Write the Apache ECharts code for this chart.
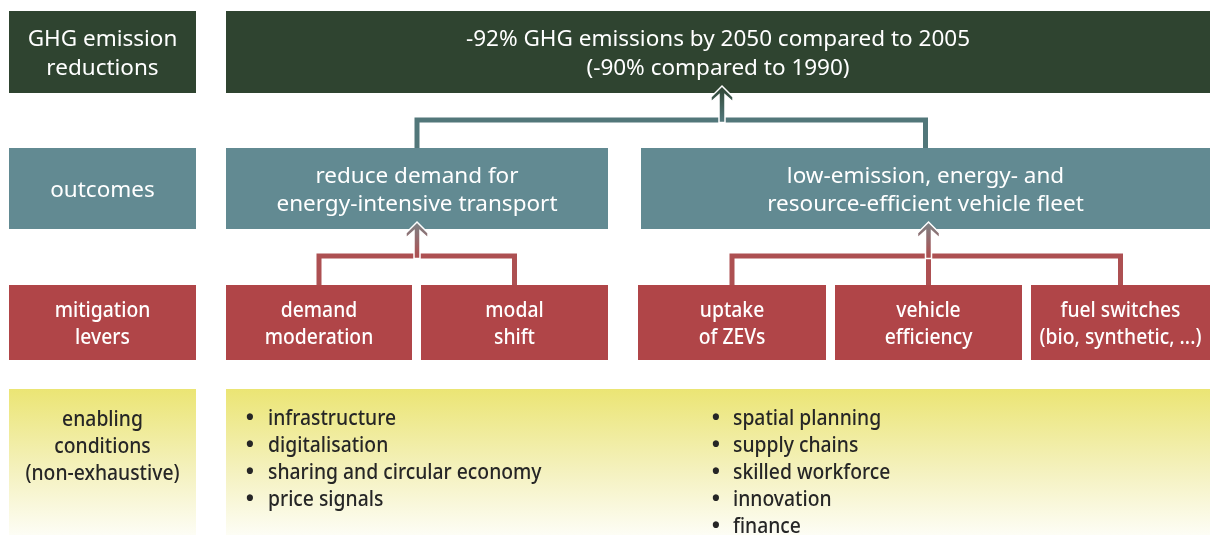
<!DOCTYPE html>
<html>
<head>
<meta charset="utf-8">
<script src="https://cdn.jsdelivr.net/npm/echarts@6/dist/echarts.min.js"></script>
<style>
  html, body { margin: 0; padding: 0; background: #fff; }
  #main { width: 1214px; height: 535px; }
</style>
</head>
<body>
<div id="main"></div>
<script>
// ========== 数据 ==========
const rowLabels = ['GHG emission\nreductions', 'outcomes', 'mitigation\nlevers', 'enabling\nconditions\n(non-exhaustive)'];
const goalText = '-92% GHG emissions by 2050 compared to 2005\n(-90% compared to 1990)';
const outcomes = ['reduce demand for\nenergy-intensive transport', 'low-emission, energy- and\nresource-efficient vehicle fleet'];
const levers = ['demand\nmoderation', 'modal\nshift', 'uptake\nof ZEVs', 'vehicle\nefficiency', 'fuel switches\n(bio, synthetic, ...)'];
const leverOutcome = [0, 0, 1, 1, 1];
const enablersLeft = ['infrastructure', 'digitalisation', 'sharing and circular economy', 'price signals'];
const enablersRight = ['spatial planning', 'supply chains', 'skilled workforce', 'innovation', 'finance'];

// ========== 布局 (坐标轴单位) ==========
const rowY = [[11, 93], [148, 229], [285, 360], [389, 535]];
const labelCol = [9, 196];
const goalCol = [226, 1210];
const outcomeCols = [[226, 608], [641, 1210]];
const leverCols = [[226, 412], [421, 608], [638, 826], [835, 1022], [1031, 1210]];
const bulletCols = [[250, 268], [716, 733]];

const COLORS = {
  goal: '#2f4430',
  outcome: '#628a92',
  lever: '#b04548',
  text: '#ffffff',
  dark: '#262626'
};
const FONT = 'Noto Sans';
// 上两行正常字宽, 下两行窄体
const WIDE = { size: 22.5, scaleX: 1, weight: 'normal' };
const NARROW = { size: 21, scaleX: 0.92, weight: 500 };

const yellow = () => new echarts.graphic.LinearGradient(0, 0, 0, 1, [
  { offset: 0, color: '#ebe574' },
  { offset: 0.55, color: '#f4f1bd' },
  { offset: 1, color: '#fdfdf5' }
]);

const boxes = [];
const rowFills = [COLORS.goal, COLORS.outcome, COLORS.lever, null];
rowLabels.forEach((t, i) => {
  boxes.push({ x: labelCol, y: rowY[i], fill: rowFills[i], text: t, font: i < 2 ? WIDE : NARROW,
               color: i === 3 ? COLORS.dark : COLORS.text, lh: i < 2 ? 28.5 : 27, textY: i === 3 ? 445 : null });
});
boxes.push({ x: goalCol, y: rowY[0], fill: COLORS.goal, text: goalText, font: WIDE, color: COLORS.text, lh: 29 });
outcomes.forEach((t, i) => {
  boxes.push({ x: outcomeCols[i], y: rowY[1], fill: COLORS.outcome, text: t, font: WIDE, color: COLORS.text, lh: 28.5 });
});
levers.forEach((t, i) => {
  boxes.push({ x: leverCols[i], y: rowY[2], fill: COLORS.lever, text: t, font: NARROW, color: COLORS.text, lh: 27 });
});
boxes.push({ x: goalCol, y: rowY[3], fill: null, text: '', font: NARROW, color: COLORS.dark, lh: 27 });

// bullet items
const bullets = [];
[enablersLeft, enablersRight].forEach((list, c) => {
  list.forEach((t, i) => bullets.push({ col: c, row: i, text: t }));
});

// connectors: children centres -> parent centre
const mid = (a) => (a[0] + a[1]) / 2;
const connectors = [
  { kids: outcomeCols.map(mid), parent: mid(goalCol) + 4, kidTop: rowY[1][0], bar: 120, tip: rowY[0][1],
    c0: '#52777a', c1: '#2f4532' },
  { kids: leverCols.filter((_, i) => leverOutcome[i] === 0).map(mid), parent: mid(outcomeCols[0]), kidTop: rowY[2][0], bar: 256, tip: rowY[1][1],
    c0: '#ad5052', c1: '#7b8487' },
  { kids: leverCols.filter((_, i) => leverOutcome[i] === 1).map(mid), parent: mid(leverCols[3]), kidTop: rowY[2][0], bar: 256, tip: rowY[1][1],
    c0: '#ad5052', c1: '#7b8487' }
];

// ========== 绘制 ==========
const chart = echarts.init(document.getElementById('main'));

function textEl(text, x, y, align, f, color, lh) {
  return {
    type: 'text',
    x: x, y: y, scaleX: f.scaleX,
    style: {
      text: text, x: 0, y: 0, align: align, verticalAlign: 'middle',
      fill: color, fontSize: f.size, fontFamily: FONT, fontWeight: f.weight, lineHeight: lh
    }
  };
}

function renderBox(params, api) {
  const b = boxes[params.dataIndex];
  const p0 = api.coord([b.x[0], b.y[0]]);
  const p1 = api.coord([b.x[1], b.y[1]]);
  const children = [{
    type: 'rect',
    shape: { x: p0[0], y: p0[1], width: p1[0] - p0[0], height: p1[1] - p0[1] },
    style: { fill: b.fill || yellow() }
  }];
  if (b.text) {
    const ty = b.textY != null ? api.coord([0, b.textY])[1] : (p0[1] + p1[1]) / 2;
    children.push(textEl(b.text, (p0[0] + p1[0]) / 2, ty + 2, 'center', b.font, b.color, b.lh));
  }
  return { type: 'group', children };
}

function renderBullet(params, api) {
  const b = bullets[params.dataIndex];
  const cols = bulletCols[b.col];
  const y = 418 + b.row * 27;
  const pd = api.coord([cols[0], y]);
  const pt = api.coord([cols[1], y]);
  return {
    type: 'group',
    children: [
      textEl('•', pd[0], pd[1] + 1, 'center', { size: 22, scaleX: 1, weight: 'bold' }, COLORS.dark, 27),
      textEl(b.text, pt[0], pt[1] + 1, 'left', NARROW, COLORS.dark, 27)
    ]
  };
}

function renderConnector(params, api) {
  const c = connectors[params.dataIndex];
  const pt = (x, y) => api.coord([x, y]);
  const barY = pt(0, c.bar)[1];
  const tipY = pt(0, c.tip)[1] - 7;
  const grad = new echarts.graphic.LinearGradient(0, barY, 0, tipY, [
    { offset: 0, color: c.c0 }, { offset: 1, color: c.c1 }
  ], true);
  const left = Math.min(...c.kids), right = Math.max(...c.kids);
  const children = [];
  const lines = [
    [pt(left, c.kidTop), pt(left, c.bar), pt(right, c.bar), pt(right, c.kidTop)]
  ];
  c.kids.forEach(k => {
    if (k !== left && k !== right) lines.push([pt(k, c.kidTop), pt(k, c.bar)]);
  });
  lines.forEach(p => {
    children.push({ type: 'polyline', shape: { points: p },
      style: { stroke: 'rgba(255,255,255,0.9)', lineWidth: 8, fill: null, lineJoin: 'miter' } });
  });
  lines.forEach(p => {
    children.push({ type: 'polyline', shape: { points: p },
      style: { stroke: c.c0, lineWidth: 5, fill: null, lineJoin: 'miter' } });
  });
  // arrow
  const x = pt(c.parent, 0)[0];
  const barBottom = barY + 2.5;
  children.push({
    type: 'polygon',
    shape: { points: [
      [x, tipY], [x + 11, tipY + 11], [x + 11, tipY + 16], [x + 3, tipY + 9],
      [x + 3, barBottom], [x - 3, barBottom], [x - 3, tipY + 9],
      [x - 11, tipY + 16], [x - 11, tipY + 11]
    ] },
    style: { fill: grad, stroke: '#ffffff', lineWidth: 1.5, lineJoin: 'miter' }
  });
  return { type: 'group', children };
}

chart.setOption({
  animation: false,
  grid: { left: 0, right: 0, top: 0, bottom: 0 },
  xAxis: { type: 'value', min: 0, max: 1214, show: false },
  yAxis: { type: 'value', min: 0, max: 535, inverse: true, show: false },
  series: [
    { type: 'custom', name: 'boxes', renderItem: renderBox, data: boxes.map((_, i) => [i]), silent: true },
    { type: 'custom', name: 'bullets', renderItem: renderBullet, data: bullets.map((_, i) => [i]), silent: true },
    { type: 'custom', name: 'connectors', renderItem: renderConnector, data: connectors.map((_, i) => [i]), silent: true }
  ]
});
</script>
</body>
</html>
